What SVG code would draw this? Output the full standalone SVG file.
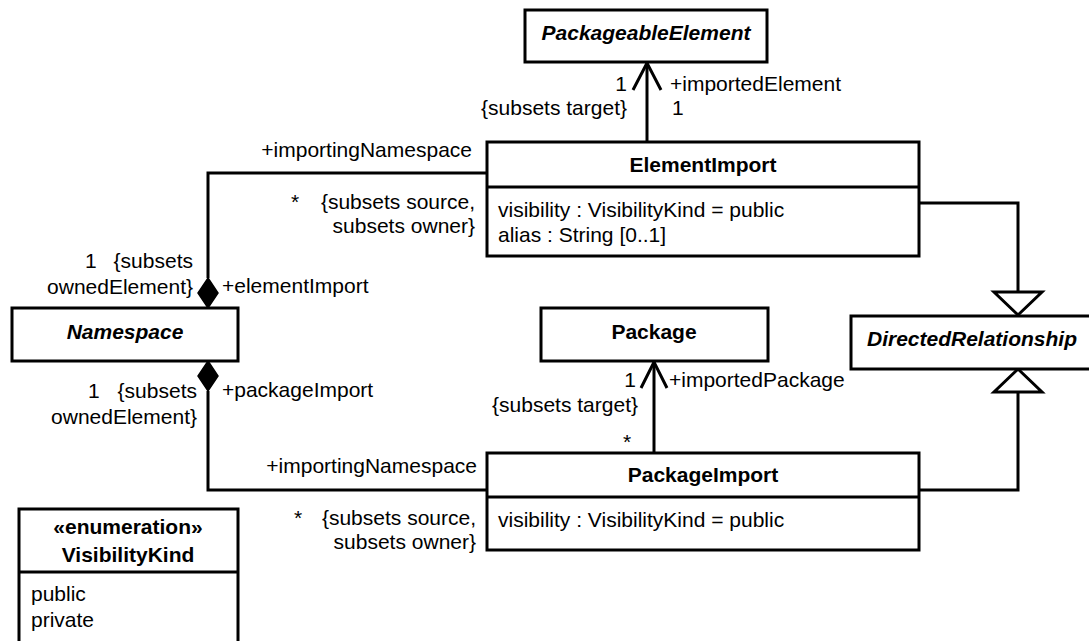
<svg xmlns="http://www.w3.org/2000/svg" width="1089" height="641" viewBox="0 0 1089 641">
<style>
.box{fill:#fff;stroke:#000;stroke-width:3}
.ln{fill:none;stroke:#000;stroke-width:3;stroke-linejoin:miter}
.t{font-family:"Liberation Sans",Arial,sans-serif;font-size:21px;fill:#000}
.b{font-weight:bold}
.i{font-style:italic}
.m{text-anchor:middle}
.e{text-anchor:end}
.dia{fill:#000;stroke:#000;stroke-width:1.5}
.tri{fill:#fff;stroke:#000;stroke-width:3}
</style>
<rect width="1089" height="641" fill="#fff"/>
<g id="connectors">
  <line class="ln" x1="647" y1="142" x2="647" y2="63"/>
  <polyline class="ln" points="633,90 647,63 661,90"/>
  <polyline class="ln" points="487,173 208,173 208,278"/>
  <polygon class="dia" points="208,278 218,293 208,308 198,293"/>
  <polygon class="dia" points="208,361 218,376 208,391 198,376"/>
  <polyline class="ln" points="208,391 208,490 487,490"/>
  <line class="ln" x1="654" y1="453" x2="654" y2="362"/>
  <polyline class="ln" points="641,388 654,362 667,388"/>
  <polyline class="ln" points="919,203 1018,203 1018,292"/>
  <polygon class="tri" points="994,292 1042,292 1018,315"/>
  <polyline class="ln" points="919,490 1018,490 1018,392"/>
  <polygon class="tri" points="994,392 1042,392 1018,369"/>
  <text class="t e" x="627" y="91">1</text>
  <text class="t" x="670" y="91">+importedElement</text>
  <text class="t e" x="627" y="115">{subsets target}</text>
  <text class="t" x="672" y="115">1</text>
  <text class="t e" x="472" y="157">+importingNamespace</text>
  <text class="t" x="291" y="209">*</text>
  <text class="t e" x="475" y="209">{subsets source,</text>
  <text class="t e" x="475" y="233">subsets owner}</text>
  <text class="t" x="85" y="268">1</text>
  <text class="t e" x="193" y="268">{subsets</text>
  <text class="t e" x="193" y="294">ownedElement}</text>
  <text class="t" x="222" y="293">+elementImport</text>
  <text class="t" x="88" y="398">1</text>
  <text class="t e" x="197" y="398">{subsets</text>
  <text class="t e" x="197" y="424">ownedElement}</text>
  <text class="t" x="222" y="397">+packageImport</text>
  <text class="t e" x="477" y="473">+importingNamespace</text>
  <text class="t" x="294" y="525">*</text>
  <text class="t e" x="476" y="525">{subsets source,</text>
  <text class="t e" x="476" y="549">subsets owner}</text>
  <text class="t e" x="636" y="387">1</text>
  <text class="t" x="669" y="387">+importedPackage</text>
  <text class="t e" x="638" y="412">{subsets target}</text>
  <text class="t" x="623" y="449">*</text>
</g>
<g id="PackageableElement">
  <rect class="box" x="525" y="10" width="242" height="52"/>
  <text class="t b i m" x="646" y="40">PackageableElement</text>
</g>
<g id="ElementImport">
  <rect class="box" x="487" y="142" width="432" height="114"/>
  <line class="ln" x1="487" y1="187" x2="919" y2="187"/>
  <text class="t b m" x="703" y="172">ElementImport</text>
  <text class="t" x="498" y="217">visibility : VisibilityKind = public</text>
  <text class="t" x="498" y="242">alias : String [0..1]</text>
</g>
<g id="Namespace">
  <rect class="box" x="12" y="308" width="226" height="53"/>
  <text class="t b i m" x="125" y="339">Namespace</text>
</g>
<g id="Package">
  <rect class="box" x="541" y="308" width="227" height="53"/>
  <text class="t b m" x="654" y="339">Package</text>
</g>
<g id="DirectedRelationship">
  <rect class="box" x="851" y="316" width="243" height="53"/>
  <text class="t b i m" x="972" y="346">DirectedRelationship</text>
</g>
<g id="PackageImport">
  <rect class="box" x="487" y="453" width="432" height="97"/>
  <line class="ln" x1="487" y1="497" x2="919" y2="497"/>
  <text class="t b m" x="703" y="482">PackageImport</text>
  <text class="t" x="498" y="527">visibility : VisibilityKind = public</text>
</g>
<g id="VisibilityKind">
  <rect class="box" x="19" y="509" width="219" height="150"/>
  <line class="ln" x1="19" y1="572" x2="238" y2="572"/>
  <text class="t b m" x="128" y="534">«enumeration»</text>
  <text class="t b m" x="128" y="562">VisibilityKind</text>
  <text class="t" x="31" y="601">public</text>
  <text class="t" x="31" y="627">private</text>
</g>
</svg>
